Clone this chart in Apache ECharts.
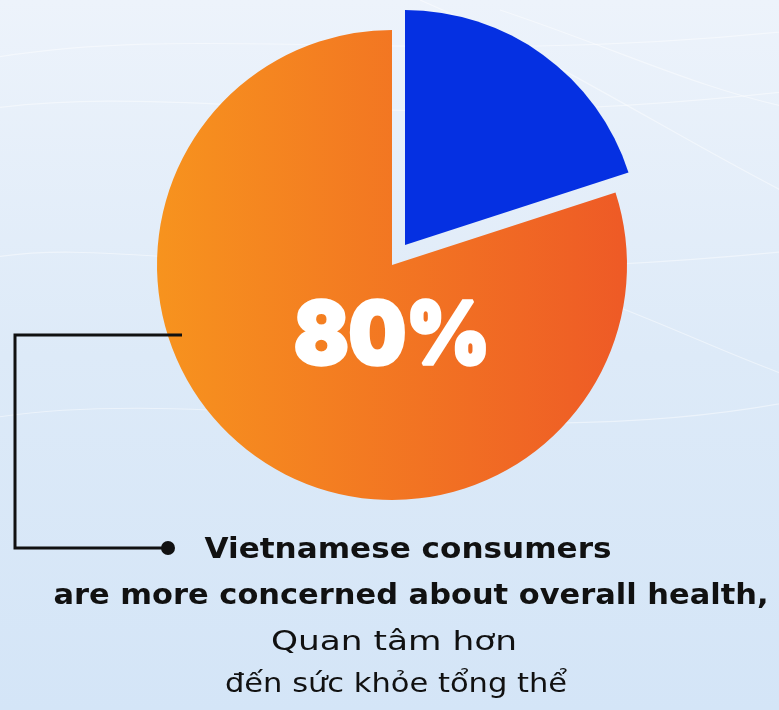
<!DOCTYPE html>
<html>
<head>
<meta charset="utf-8">
<script src="https://cdn.jsdelivr.net/npm/echarts@6/dist/echarts.min.js"></script>
<style>
  html, body { margin: 0; padding: 0; }
  #chart { width: 779px; height: 710px; }
</style>
</head>
<body>
<div id="chart"></div>
<script>
// Share of Vietnamese consumers by concern about overall health
const categories = ['Other', 'More concerned about overall health'];
const shares = [20, 80];
const captionLines = [
  'Vietnamese consumers',
  'are more concerned about overall health,',
  'Quan tâm hơn',
  'đến sức khỏe tổng thể'
];

const chart = echarts.init(document.getElementById('chart'));

const orangeFill = new echarts.graphic.LinearGradient(0, 0, 1, 0, [
  { offset: 0, color: '#F7931E' },
  { offset: 1, color: '#EE5A26' }
]);
const blueFill = '#0530E2';
const hidden = { color: 'rgba(0,0,0,0)' };
const FONT = '"DejaVu Sans", sans-serif';
const NUM_FONT = 'Inter, "DejaVu Sans", sans-serif';

// Main pie: the large slice; the small slice is pulled out in its own series
const mainData = categories.map((name, i) => ({
  name,
  value: shares[i],
  itemStyle: i === 1 ? { color: orangeFill } : hidden
}));
const pulledData = categories.map((name, i) => ({
  name,
  value: shares[i],
  itemStyle: i === 0 ? { color: blueFill } : hidden
}));

// Text helper: horizontally stretch a line so it spans a given width
const measureCtx = document.createElement('canvas').getContext('2d');
function fittedText(text, font, cx, cy, width, color, extra) {
  measureCtx.font = font;
  const w = measureCtx.measureText(text).width;
  return {
    type: 'text',
    silent: true,
    z: 10,
    x: cx,
    y: cy,
    scaleX: width / w,
    style: Object.assign({ text, x: 0, y: 0, align: 'center', verticalAlign: 'middle', font, fill: color }, extra || {})
  };
}

// faint curved streaks in the background
const streaks = [
  [[-20, 60], [200, 20], [420, 70], [800, 30]],
  [[-20, 110], [180, 80], [360, 140], [800, 90]],
  [[-20, 260], [120, 230], [300, 300], [800, 250]],
  [[420, 0], [560, 60], [680, 140], [800, 200]],
  [[500, 10], [620, 50], [700, 90], [800, 110]],
  [[-20, 420], [200, 380], [500, 460], [800, 400]],
  [[600, 300], [680, 330], [740, 360], [800, 380]]
];

chart.setOption({
  backgroundColor: new echarts.graphic.LinearGradient(0, 0, 0, 1, [
    { offset: 0, color: '#EDF3FB' },
    { offset: 0.5, color: '#DDEAF8' },
    { offset: 1, color: '#D4E5F7' }
  ]),
  animation: false,
  series: [
    {
      type: 'pie',
      silent: true,
      center: [392, 265],
      radius: [0, 235],
      startAngle: 90,
      clockwise: true,
      label: { show: false },
      labelLine: { show: false },
      data: mainData
    },
    {
      type: 'pie',
      silent: true,
      center: [405, 245],
      radius: [0, 235],
      startAngle: 90,
      clockwise: true,
      label: { show: false },
      labelLine: { show: false },
      data: pulledData
    }
  ],
  graphic: [
    ...streaks.map(p => ({
      type: 'bezierCurve',
      silent: true,
      z: -1,
      shape: { x1: p[0][0], y1: p[0][1], cpx1: p[1][0], cpy1: p[1][1], cpx2: p[2][0], cpy2: p[2][1], x2: p[3][0], y2: p[3][1] },
      style: { stroke: 'rgba(255,255,255,0.45)', lineWidth: 1.2, fill: null }
    })),
    // value of the large slice
    fittedText(shares[1] + '%', '900 86px ' + NUM_FONT, 392, 338, 196, '#ffffff',
      { stroke: '#ffffff', lineWidth: 3.5, lineJoin: 'round' }),
    {
      type: 'polyline',
      silent: true,
      z: 10,
      shape: { points: [[182, 335], [15, 335], [15, 548], [168, 548]] },
      style: { stroke: '#111111', lineWidth: 3, fill: null }
    },
    {
      type: 'circle',
      silent: true,
      z: 10,
      shape: { cx: 168, cy: 548, r: 7 },
      style: { fill: '#111111' }
    },
    fittedText(captionLines[0], 'bold 28px ' + FONT, 408, 551, 407, '#111111'),
    fittedText(captionLines[1], 'bold 28px ' + FONT, 411, 597, 715, '#111111'),
    fittedText(captionLines[2], '27px ' + FONT, 394, 643, 246, '#111111'),
    fittedText(captionLines[3], '27px ' + FONT, 396, 685, 342, '#111111')
  ]
});
</script>
</body>
</html>
